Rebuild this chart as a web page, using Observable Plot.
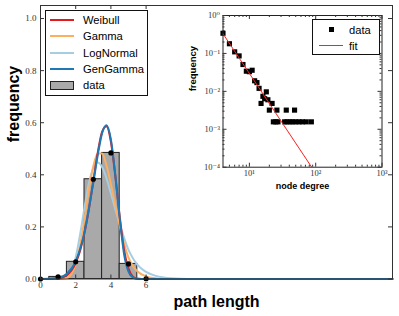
<!DOCTYPE html>
<html><head><meta charset="utf-8">
<script src="https://cdn.jsdelivr.net/npm/d3@7"></script>
<script src="https://cdn.jsdelivr.net/npm/@observablehq/plot@0.6"></script>
<style>
body{margin:0;background:#fff;}
#wrap{position:relative;width:399px;height:316px;overflow:hidden;font-family:"Liberation Sans",Arial,sans-serif;}
#wrap > svg{position:absolute;left:0;top:0;}
#wrap > svg.inset{left:185px;top:6px;}
.legend{position:absolute;background:#fff;border:1px solid #111;box-sizing:border-box;font-size:11.2px;color:#000;}
.legend .sw{position:absolute;height:0;border-top:2px solid;}
.legend .lab{position:absolute;line-height:14px;white-space:nowrap;}
</style></head>
<body><div id="wrap"></div>
<script>
// ---- main chart data ----
const pathLength = [0, 1, 2, 3, 4, 5, 6];
const pathFreq   = [0.0, 0.008, 0.066, 0.383, 0.484, 0.058, 0.001];
const curveX    = [0, 0.5, 1, 1.5, 2, 2.25, 2.5, 2.75, 3, 3.25, 3.5, 3.75, 4, 4.25, 4.5, 4.75, 5, 5.25, 5.5, 6, 6.5, 7, 8, 9, 10, 12, 15, 20];
const weibull   = [0, 0.0001, 0.002, 0.015, 0.062, 0.109, 0.177, 0.268, 0.376, 0.484, 0.565, 0.586, 0.527, 0.396, 0.240, 0.111, 0.040, 0.009, 0.001, 0, 0, 0, 0, 0, 0, 0, 0, 0];
const gammaFit  = [0, 0, 0.0001, 0.004, 0.057, 0.129, 0.230, 0.343, 0.432, 0.482, 0.482, 0.436, 0.364, 0.284, 0.206, 0.135, 0.082, 0.050, 0.030, 0.010, 0.003, 0.0007, 0, 0, 0, 0, 0, 0];
const lognormal = [0, 0, 0.0001, 0.0063, 0.083, 0.171, 0.274, 0.367, 0.427, 0.447, 0.430, 0.387, 0.329, 0.268, 0.212, 0.158, 0.112, 0.080, 0.055, 0.027, 0.013, 0.006, 0.0013, 0.0003, 0, 0, 0, 0];
const genGamma  = [0, 0.0005, 0.004, 0.020, 0.068, 0.115, 0.180, 0.270, 0.370, 0.475, 0.560, 0.590, 0.535, 0.400, 0.235, 0.095, 0.028, 0.006, 0.001, 0, 0, 0, 0, 0, 0, 0, 0, 0];
const xTicks = [0, 2, 4, 6];
const yTicks = [0, 0.2, 0.4, 0.6, 0.8, 1.0];
const seriesNames  = ["Weibull", "Gamma", "LogNormal", "GenGamma"];
const seriesColors = ["#e31a1c", "#fdae61", "#a6cee3", "#1f78b4"];

// ---- inset data ----
const degree = [4, 5, 6, 7, 8, 9, 10, 11, 12, 13, 14, 15, 16, 17, 18, 19, 20, 22, 26, 36, 48,
                23, 25, 27, 34, 37, 41, 45, 50, 56, 63, 72, 86];
const degreeFreq = [0.34, 0.18, 0.11, 0.086, 0.051, 0.034, 0.033, 0.036, 0.019, 0.017, 0.012, 0.0048, 0.0074, 0.0064, 0.0097, 0.006, 0.0032, 0.0048, 0.0032, 0.0032, 0.0032,
                    0.00157, 0.00157, 0.00157, 0.00157, 0.00157, 0.00157, 0.00157, 0.00157, 0.00157, 0.00157, 0.00157, 0.00157];
const fitDegree = [4, 86];
const fitFreq   = [0.33, 0.000103];
const insetXMajor = [10, 100, 1000];
const insetXMinor = [5, 6, 7, 8, 9, 20, 30, 40, 50, 60, 70, 80, 90, 200, 300, 400, 500, 600, 700, 800, 900];
const insetYMajor = [1e-4, 1e-3, 1e-2, 1e-1, 1];
const insetYMinor = [2e-4,3e-4,4e-4,5e-4,6e-4,7e-4,8e-4,9e-4, 2e-3,3e-3,4e-3,5e-3,6e-3,7e-3,8e-3,9e-3, 2e-2,3e-2,4e-2,5e-2,6e-2,7e-2,8e-2,9e-2, 0.2,0.3,0.4,0.5,0.6,0.7,0.8,0.9];

const serif = "Liberation Serif, DejaVu Serif, serif";
const wrap = document.getElementById("wrap");

// ---- main plot ----
const W = 399, H = 316, mL = 40, mR = 7, mT = 5, mB = 37.5;
const iw = W - mL - mR, ih = H - mT - mB;
const bars = pathLength.map((x, i) => ({x1: x - 0.5, x2: x + 0.5, y: pathFreq[i]})).filter(d => d.y > 0.002);
const pts = pathLength.map((x, i) => ({x, y: pathFreq[i]}));
const curves = [weibull, gammaFit, lognormal, genGamma];
const drawOrder = [2, 1, 0, 3];
const curveMarks = drawOrder.map(k => Plot.line(curveX.map((x, i) => ({x, y: curves[k][i]})),
  {x: "x", y: "y", stroke: seriesColors[k], strokeWidth: 2, curve: "monotone-x"}));

const main = Plot.plot({
  width: W, height: H, marginLeft: mL, marginRight: mR, marginTop: mT, marginBottom: mB,
  x: {domain: [0, 20]},
  y: {domain: [0, 1.05]},
  style: {background: "transparent", fontFamily: "Liberation Sans, Arial, sans-serif"},
  marks: [
    Plot.rectY(bars, {x1: "x1", x2: "x2", y: "y", fill: "#a9a9a9", stroke: "#222", strokeWidth: 1}),
    ...curveMarks,
    Plot.dot(pts, {x: "x", y: "y", r: 2.6, fill: "#000"}),
    Plot.frame({stroke: "#333"}),
    Plot.tickX(xTicks, {x: d => d, insetTop: ih - 4, stroke: "#333"}),
    Plot.tickX(xTicks, {x: d => d, insetBottom: ih - 4, stroke: "#333"}),
    Plot.tickY(yTicks, {y: d => d, insetLeft: iw - 4, stroke: "#333"}),
    Plot.tickY(yTicks, {y: d => d, insetRight: iw - 4, stroke: "#333"}),
    Plot.axisX({ticks: xTicks, tickSize: 0, tickPadding: 3, label: null, tickFormat: d => String(d), fontFamily: serif, fontSize: 9, fill: "#333"}),
    Plot.axisY({ticks: yTicks, tickSize: 0, tickPadding: 4, label: null, tickFormat: d3.format(".1f"), fontFamily: serif, fontSize: 9, fill: "#333"}),
    Plot.text(["path length"], {text: d => d, frameAnchor: "bottom", dy: 23, lineAnchor: "middle", fontSize: 16, fontWeight: "bold", fill: "#000"}),
    Plot.text(["frequency"], {text: d => d, frameAnchor: "left", dx: -27, rotate: -90, lineAnchor: "middle", fontSize: 16, fontWeight: "bold", fill: "#000"})
  ]
});
wrap.appendChild(main);

// ---- inset plot ----
const IW = 205, IH = 190, imL = 37.5, imR = 8.5, imT = 9, imB = 29.3;
const iiw = IW - imL - imR, iih = IH - imT - imB;
const sup = {"-": "\u207B", "0": "\u2070", "1": "\u00B9", "2": "\u00B2", "3": "\u00B3", "4": "\u2074"};
const fmtPow = d => "10" + String(Math.round(Math.log10(d))).split("").map(c => sup[c]).join("");
const inset = Plot.plot({
  width: IW, height: IH, marginLeft: imL, marginRight: imR, marginTop: imT, marginBottom: imB,
  x: {type: "log", domain: [4, 1000]},
  y: {type: "log", domain: [1e-4, 1]},
  style: {background: "transparent", fontFamily: "Liberation Sans, Arial, sans-serif"},
  marks: [
    Plot.frame({fill: "#fff", stroke: "none"}),
    Plot.dot(degree.map((d, i) => ({x: d, y: degreeFreq[i]})), {x: "x", y: "y", symbol: "square", r: 2.9, fill: "#000", stroke: "none"}),
    Plot.line(fitDegree.map((d, i) => ({x: d, y: fitFreq[i]})), {x: "x", y: "y", stroke: "#ff2020", strokeWidth: 1}),
    Plot.frame({stroke: "#222"}),
    Plot.tickX(insetXMajor, {x: d => d, insetTop: iih - 4, stroke: "#333"}),
    Plot.tickX(insetXMajor, {x: d => d, insetBottom: iih - 4, stroke: "#333"}),
    Plot.tickX(insetXMinor, {x: d => d, insetTop: iih - 2, stroke: "#333"}),
    Plot.tickX(insetXMinor, {x: d => d, insetBottom: iih - 2, stroke: "#333"}),
    Plot.tickY(insetYMajor, {y: d => d, insetLeft: iiw - 4, stroke: "#333"}),
    Plot.tickY(insetYMajor, {y: d => d, insetRight: iiw - 4, stroke: "#333"}),
    Plot.tickY(insetYMinor, {y: d => d, insetLeft: iiw - 2, stroke: "#333"}),
    Plot.tickY(insetYMinor, {y: d => d, insetRight: iiw - 2, stroke: "#333"}),
    Plot.axisX({ticks: insetXMajor, tickSize: 0, tickPadding: 3, label: null, tickFormat: fmtPow, fontFamily: serif, fontSize: 8.5, fill: "#333"}),
    Plot.axisY({ticks: insetYMajor, tickSize: 0, tickPadding: 3, label: null, tickFormat: fmtPow, fontFamily: serif, fontSize: 8.5, fill: "#333"}),
    Plot.text(["node degree"], {text: d => d, frameAnchor: "bottom", dy: 19, lineAnchor: "middle", fontSize: 9, fontWeight: "bold", fill: "#000"}),
    Plot.text(["frequency"], {text: d => d, frameAnchor: "left", dx: -30.5, rotate: -90, lineAnchor: "middle", fontSize: 9.5, fontWeight: "bold", fill: "#000"})
  ]
});
inset.classList.add("inset");
wrap.appendChild(inset);

// ---- legends ----
function legend(left, top, width, height) {
  const d = document.createElement("div");
  d.className = "legend";
  Object.assign(d.style, {left: left + "px", top: top + "px", width: width + "px", height: height + "px"});
  wrap.appendChild(d);
  return d;
}
function add(parent, cls, css, text) {
  const e = document.createElement("div");
  e.className = cls;
  Object.assign(e.style, css);
  if (text) e.textContent = text;
  parent.appendChild(e);
  return e;
}
const lg = legend(45, 10, 103, 86);
seriesNames.forEach((name, i) => {
  const cy = 10 + 16.3 * i - 1;
  add(lg, "sw", {left: "4px", top: (cy - 1) + "px", width: "24px", borderTopColor: seriesColors[i]});
  add(lg, "lab", {left: "37px", top: (cy - 7) + "px"}, name);
});
add(lg, "", {position: "absolute", left: "4px", top: "70px", width: "24px", height: "9px", background: "#a9a9a9", border: "1px solid #222", boxSizing: "border-box"});
add(lg, "lab", {left: "37px", top: (74 - 7) + "px"}, "data");

const lg2 = legend(312, 19, 68, 36);
add(lg2, "", {position: "absolute", left: "16px", top: "7px", width: "5px", height: "5px", background: "#000"});
add(lg2, "lab", {left: "36px", top: "3px"}, "data");
add(lg2, "sw", {left: "6px", top: "25px", width: "24px", borderTopWidth: "1px", borderTopColor: "#ff2020"});
add(lg2, "lab", {left: "36px", top: "19px"}, "fit");
</script>
</body></html>
